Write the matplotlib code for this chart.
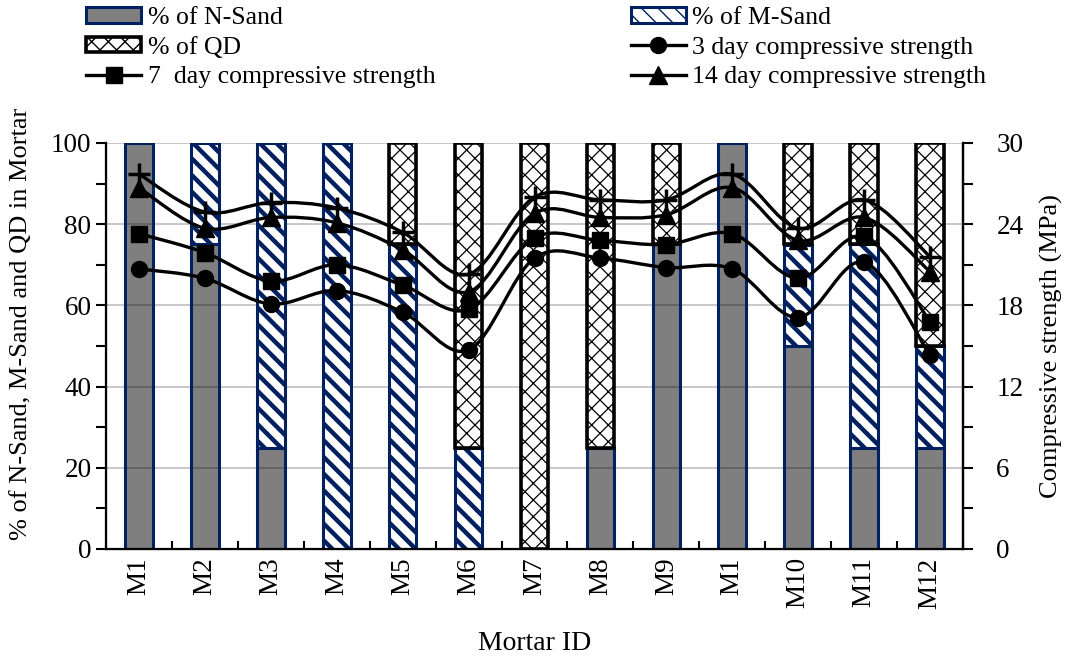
import numpy as np
import matplotlib
matplotlib.use("Agg")
import matplotlib.pyplot as plt
from matplotlib.path import Path
from matplotlib.patches import PathPatch
from matplotlib.lines import Line2D
from matplotlib.ticker import MultipleLocator, FixedLocator

plt.rcParams["font.family"] = ["Liberation Serif", "DejaVu Serif"]
plt.rcParams["hatch.linewidth"] = 1.0

# ---- data -------------------------------------------------------------
mortar_ids = ["M1", "M2", "M3", "M4", "M5", "M6", "M7", "M8", "M9",
              "M1", "M10", "M11", "M12"]

# mix proportions (%)
n_sand = [100, 75, 25, 0, 0, 0, 0, 25, 75, 100, 50, 25, 25]
m_sand = [0, 25, 75, 100, 75, 25, 0, 0, 0, 0, 25, 50, 25]
qd     = [0, 0, 0, 0, 25, 75, 100, 75, 25, 0, 25, 25, 50]

# compressive strength (MPa)
day3  = [20.7, 20.0, 18.1, 19.1, 17.5, 14.7, 21.5, 21.5, 20.8, 20.7, 17.1, 21.2, 14.3]
day7  = [23.3, 21.9, 19.8, 21.0, 19.5, 17.7, 23.0, 22.8, 22.5, 23.3, 20.0, 23.1, 16.8]
day14 = [26.7, 23.7, 24.5, 24.1, 22.1, 19.0, 24.8, 24.5, 24.7, 26.7, 22.8, 24.5, 20.5]
day28 = [27.7, 24.9, 25.6, 25.2, 23.4, 20.3, 26.0, 25.8, 25.8, 27.7, 23.7, 25.8, 21.6]

NAVY = "#002060"
GRID = "#BFBFBF"


def smooth_path(xs, ys):
    """Cardinal-spline (Catmull-Rom) curve through the points as cubic Beziers."""
    pts = np.column_stack([xs, ys]).astype(float)
    n = len(pts)
    verts = [pts[0]]
    codes = [Path.MOVETO]
    for i in range(n - 1):
        p0 = pts[i - 1] if i > 0 else pts[i]
        p1 = pts[i]
        p2 = pts[i + 1]
        p3 = pts[i + 2] if i + 2 < n else pts[i + 1]
        c1 = p1 + (p2 - p0) / 6.0
        c2 = p2 - (p3 - p1) / 6.0
        verts += [c1, c2, p2]
        codes += [Path.CURVE4] * 3
    return Path(verts, codes)


fig = plt.figure(figsize=(10.69, 6.57), dpi=100)
ax = fig.add_axes([106 / 1069, 1 - 549 / 657, (963 - 106) / 1069, (549 - 143) / 657])

x = np.arange(len(mortar_ids))
ns = np.array(n_sand, float)
ms = np.array(m_sand, float)
q = np.array(qd, float)
width = 0.42

# stacked bars (only non-zero segments)
k = ns > 0
b_n = ax.bar(x[k], ns[k], width, facecolor=(0, 0, 0, 0.5), edgecolor=NAVY,
             linewidth=2.2, zorder=2)
k = ms > 0
b_m = ax.bar(x[k], ms[k], width, bottom=ns[k], facecolor="white", edgecolor=NAVY,
             linewidth=2.2, hatch="\\\\", zorder=2)
k = q > 0
b_q = ax.bar(x[k], q[k], width, bottom=(ns + ms)[k], facecolor="white", edgecolor="black",
             linewidth=2.6, hatch="xx", zorder=2)
for p in b_m:
    if hasattr(p, "set_hatch_linewidth"):
        p.set_hatch_linewidth(3.2)
for p in b_q:
    if hasattr(p, "set_hatch_linewidth"):
        p.set_hatch_linewidth(0.9)

ax.set_xlim(-0.5, len(mortar_ids) - 0.5)
ax.set_ylim(0, 100)
ax.set_axisbelow(True)
ax.yaxis.set_major_locator(MultipleLocator(20))
ax.yaxis.set_minor_locator(MultipleLocator(10))
ax.grid(axis="y", which="major", color=GRID, linewidth=1.2)
ax.set_xticks(x)
ax.set_xticklabels(mortar_ids, rotation=90)
ax.xaxis.set_minor_locator(FixedLocator(np.arange(-0.5, len(mortar_ids), 1.0)))
ax.tick_params(axis="x", which="major", length=0, labelsize=19.5, pad=6)
ax.tick_params(axis="x", which="minor", direction="in", length=6, width=1.5)
ax.tick_params(axis="y", which="both", direction="out", length=7, width=1.5,
               labelsize=19.5)
for s in ("left", "bottom", "right"):
    ax.spines[s].set_linewidth(1.6)
ax.spines["top"].set_visible(False)
ax.set_ylabel("% of N-Sand, M-Sand and QD in Mortar", fontsize=19)
ax.yaxis.set_label_coords(-0.086, 0.555)
ax.set_xlabel("Mortar ID", fontsize=20, labelpad=16)

# strength curves on the secondary axis
ax2 = ax.twinx()
ax2.set_ylim(0, 30)
ax2.yaxis.set_major_locator(MultipleLocator(6))
ax2.yaxis.set_minor_locator(MultipleLocator(3))
ax2.tick_params(axis="y", which="both", direction="out", length=7, width=1.5,
                labelsize=19.5, pad=17)
ax2.spines["top"].set_visible(False)
ax2.spines["right"].set_linewidth(1.6)
ax2.set_ylabel("Compressive strength (MPa)", fontsize=19, labelpad=12)

series = [
    (day3, "o", 11.5, "3 day compressive strength"),
    (day7, "s", 11.5, "7  day compressive strength"),
    (day14, "^", 13, "14 day compressive strength"),
    (day28, "+", 16, None),
]
handles_lines = {}
for vals, mk, ms_, lab in series:
    ax2.add_patch(PathPatch(smooth_path(x, vals), facecolor="none", edgecolor="black",
                            linewidth=2.4, zorder=3))
    ax2.plot(x, vals, linestyle="none", marker=mk, markersize=ms_, color="black",
             markeredgewidth=2.5 if mk == "+" else 1.0, zorder=4)
    if lab:
        handles_lines[lab] = Line2D([], [], color="black", linewidth=2.4, marker=mk,
                                    markersize=ms_)

handles = [b_n, b_q, handles_lines["7  day compressive strength"],
           b_m, handles_lines["3 day compressive strength"],
           handles_lines["14 day compressive strength"]]
labels = ["% of N-Sand", "% of QD", "7  day compressive strength",
          "% of M-Sand", "3 day compressive strength", "14 day compressive strength"]
fig.legend(handles, labels, loc="upper left", bbox_to_anchor=(86 / 1069, 1 - 7 / 657),
           ncol=2, frameon=False, fontsize=18.5, handlelength=2.15, handleheight=0.55,
           handletextpad=0.25, columnspacing=7.6, labelspacing=0.3,
           borderpad=0.0, borderaxespad=0.0)

fig.savefig("out.png", dpi=100)
